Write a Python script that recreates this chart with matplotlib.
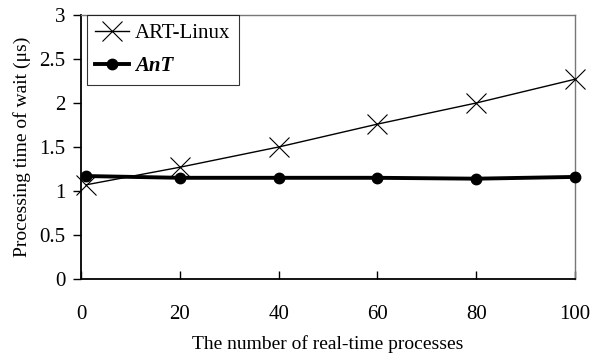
import matplotlib
matplotlib.use("Agg")
import matplotlib.pyplot as plt

x = [1, 20, 40, 60, 80, 100]
art_linux = [1.07, 1.27, 1.50, 1.76, 2.00, 2.27]
ant = [1.17, 1.15, 1.15, 1.15, 1.14, 1.16]
xticks = [0, 20, 40, 60, 80, 100]
yticks = [0, 0.5, 1, 1.5, 2, 2.5, 3]
ytick_labels = ["0", "0.5", "1", "1.5", "2", "2.5", "3"]

plt.rcParams['font.family'] = ['Liberation Serif', 'DejaVu Serif']
fig = plt.figure(figsize=(5.91, 3.56), dpi=100)
ax = fig.add_axes([81/591, 1-279/356, (575-81)/591, (279-15)/356])

ax.plot(x, art_linux, color='black', lw=1.0, marker='x', markersize=14,
        markeredgewidth=0.8, label='ART-Linux', clip_on=False, zorder=3)
ax.plot(x, ant, color='black', lw=2.8, marker='o', markersize=7.5,
        label='AnT', clip_on=False, zorder=3)

ax.set_xlim(0, 100)
ax.set_ylim(0, 3)
ax.set_xticks(xticks)
ax.set_yticks(yticks)
ax.set_yticklabels(ytick_labels)
ax.tick_params(axis='x', direction='in', length=6, width=1, labelsize=15, pad=19)
ax.tick_params(axis='y', direction='out', length=6, width=1, labelsize=15, pad=5)
for s in ['top', 'right']:
    ax.spines[s].set_color('#777777')
    ax.spines[s].set_linewidth(1)
for s in ['left', 'bottom']:
    ax.spines[s].set_color('black')
    ax.spines[s].set_linewidth(1.3)

ax.set_xlabel('The number of real-time processes', fontsize=14, labelpad=8)
ax.set_ylabel('Processing time of wait (\u03bcs)', fontsize=14, labelpad=6)

leg = ax.legend(loc='upper left', bbox_to_anchor=(6/494, 1.0), fontsize=15,
                frameon=True, fancybox=False, edgecolor='black', borderaxespad=0,
                handlelength=1.6, handletextpad=0.3, borderpad=0.4, labelspacing=0.65)
leg.get_frame().set_linewidth(0.8)
texts = leg.get_texts()
texts[1].set_fontweight('bold')
texts[1].set_fontstyle('italic')

fig.savefig('out.png', dpi=100)
